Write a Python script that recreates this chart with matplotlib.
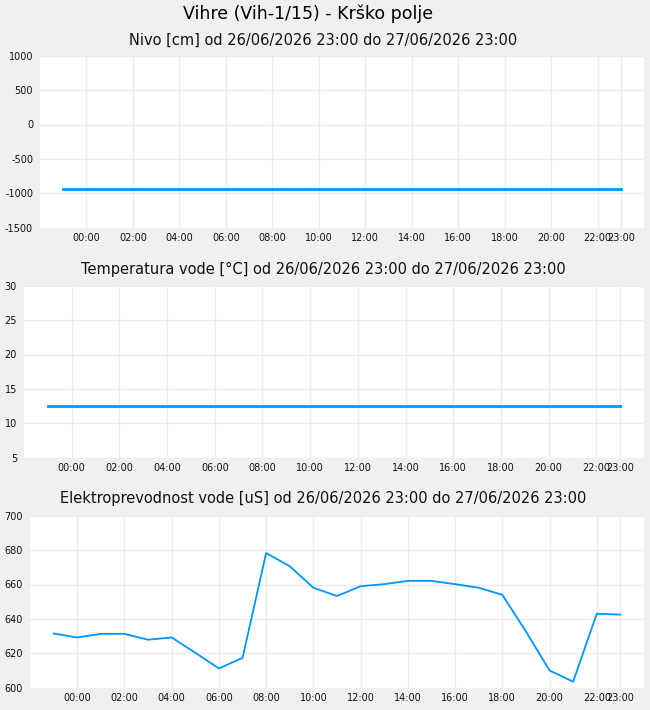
import numpy as np
import pandas as pd
import matplotlib
matplotlib.use("Agg")
import matplotlib.pyplot as plt
import matplotlib.dates as mdates

plt.rcParams["axes.unicode_minus"] = False

# hourly readings, 26/06/2026 23:00 .. 27/06/2026 23:00
times = pd.date_range("2026-06-26 23:00", "2026-06-27 23:00", freq="h")

nivo = [-933, -933, -933, -933, -933, -933, -933, -933, -933, -933, -933, -933, -933,
        -933, -933, -933, -933, -933, -933, -933, -933, -933, -933, -933, -933]
temperatura = [12.5, 12.5, 12.5, 12.5, 12.5, 12.5, 12.5, 12.5, 12.5, 12.5, 12.5, 12.5, 12.5,
               12.5, 12.5, 12.5, 12.5, 12.5, 12.5, 12.5, 12.5, 12.5, 12.5, 12.5, 12.5]
prevodnost = [631.5, 629.2, 631.3, 631.3, 627.9, 629.2, 620.3, 611.2, 617.3, 678.3, 670.6,
              658.1, 653.3, 659.0, 660.2, 662.1, 662.1, 660.2, 658.1, 654.0, 632.7, 610.0,
              603.5, 643.0, 642.5]

main_title = "Vihre (Vih-1/15) - Krško polje"
period = "od 26/06/2026 23:00 do 27/06/2026 23:00"
titles = ["Nivo [cm] " + period,
          "Temperatura vode [°C] " + period,
          "Elektroprevodnost vode [uS] " + period]
yticks = [np.arange(-1500, 1001, 500), np.arange(5, 31, 5), np.arange(600, 701, 20)]

W, H = 650, 710
bg = "#f0f0f0"
blue = "#0096ff"

fig = plt.figure(figsize=(W / 100, H / 100), dpi=100, facecolor=bg)

# (left, right, top, bottom) in pixels, title y in pixels
boxes = [(40, 644, 55.7, 227.7), (24, 644, 285.7, 457.7), (30, 644, 515.7, 687.7)]
title_y = [40, 269, 499]
widths = [2.0, 2.0, 1.3]

xticks = list(pd.date_range("2026-06-27 00:00", "2026-06-27 22:00", freq="2h")) + [times[-1]]
pad = pd.Timedelta(hours=1)

for i, vals in enumerate([nivo, temperatura, prevodnost]):
    l, r, t, b = boxes[i]
    ax = fig.add_axes([l / W, (H - b) / H, (r - l) / W, (b - t) / H])
    ax.set_facecolor("white")
    ax.plot(times, vals, color=blue, lw=widths[i])
    ax.set_xlim(times[0] - pad, times[-1] + pad)
    ax.set_ylim(yticks[i][0], yticks[i][-1])
    ax.set_yticks(yticks[i])
    ax.set_xticks(xticks)
    ax.xaxis.set_major_formatter(mdates.DateFormatter("%H:%M"))
    for s in ax.spines.values():
        s.set_visible(False)
    ax.grid(True, color="#ededed", lw=1)
    ax.set_axisbelow(True)
    ax.tick_params(length=0, labelsize=7, colors="#111111")
    ax.tick_params(axis="y", pad=5)
    ax.tick_params(axis="x", pad=4)
    fig.text(323 / W, 1 - title_y[i] / H, titles[i], ha="center", va="center",
             fontsize=10.5, color="#111111")

fig.text(308 / W, 1 - 14 / H, main_title, ha="center", va="center", fontsize=12.5,
         color="#000000", fontweight="medium")

fig.savefig("out.png", dpi=100, facecolor=bg)
